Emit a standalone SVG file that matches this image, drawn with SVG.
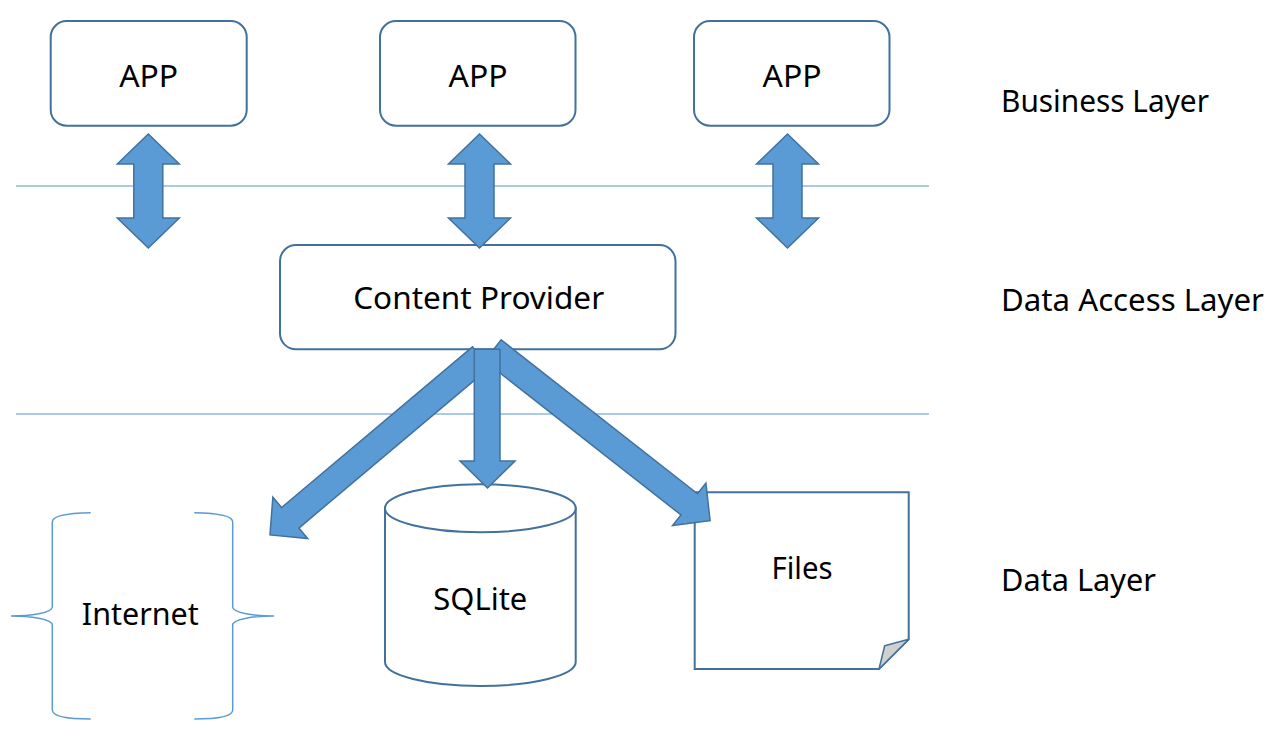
<svg xmlns="http://www.w3.org/2000/svg" xmlns:xlink="http://www.w3.org/1999/xlink" width="1280" height="754" viewBox="0 0 1280 754">
<style>
.box{fill:#fff;stroke:#41719C;stroke-width:2}
.arr{fill:#5B9BD5;stroke:#41719C;stroke-width:1.5;stroke-linejoin:miter}
.sep{stroke:#8DB9E2;stroke-width:1.4;fill:none}
.brace{stroke:#5B9BD5;stroke-width:1.5;fill:none}
text{font-family:"Noto Sans","Open Sans","DejaVu Sans",sans-serif;font-size:30px;fill:#000}
.c{text-anchor:middle}
</style>
<defs>
<path id="dbl" d="M0,134 L31,164 L14.5,164 L14.5,218 L31,218 L0,248 L-31,218 L-14.5,218 L-14.5,164 L-31,164 Z"/>
<path id="diag" d="M0,-13.4 L249.5,-13.4 L249.5,-27 L276,0 L249.5,27 L249.5,13.4 L0,13.4 Z"/>
</defs>
<rect width="1280" height="754" fill="#fff"/>
<g id="separators">
<line class="sep" x1="16" y1="186" x2="929" y2="186"/>
<line class="sep" x1="16" y1="414" x2="929" y2="414"/>
</g>
<g id="app1"><rect class="box" x="50.7" y="21" width="196" height="104.7" rx="16"/><text class="c" x="148.7" y="87" textLength="59" lengthAdjust="spacingAndGlyphs">APP</text></g>
<g id="app2"><rect class="box" x="380" y="21" width="195.5" height="104.7" rx="16"/><text class="c" x="478" y="87" textLength="59" lengthAdjust="spacingAndGlyphs">APP</text></g>
<g id="app3"><rect class="box" x="694" y="21" width="195.5" height="104.7" rx="16"/><text class="c" x="792" y="87" textLength="59" lengthAdjust="spacingAndGlyphs">APP</text></g>
<g id="content-provider"><rect class="box" x="280" y="245" width="395.5" height="104.3" rx="16"/><text class="c" x="478.7" y="309.3" textLength="251" lengthAdjust="spacingAndGlyphs">Content Provider</text></g>
<g id="internet">
<path class="brace" d="M90.7,512.7 C70,513 52.3,515 52.3,522 L52.3,607 C52.3,613 30,616 11,616 C30,616 52.3,619 52.3,625 L52.3,710 C52.3,717 70,719 90.7,719"/>
<path class="brace" d="M194.3,512.7 C215,513 232.7,515 232.7,522 L232.7,607 C232.7,613 255,616 274,616 C255,616 232.7,619 232.7,625 L232.7,710 C232.7,717 215,719 194.3,719"/>
<text class="c" x="140.3" y="625" textLength="117" lengthAdjust="spacingAndGlyphs">Internet</text>
</g>
<g id="sqlite">
<path class="box" d="M385,508.3 L385,662 A95.35,24 0 0 0 575.7,662 L575.7,508.3 Z"/>
<ellipse class="box" cx="480.35" cy="508.3" rx="95.35" ry="24"/>
<text class="c" x="480.3" y="610" textLength="94" lengthAdjust="spacingAndGlyphs">SQLite</text>
</g>
<g id="files">
<path class="box" d="M694.7,492.3 L908.7,492.3 L908.7,639.3 L879,669 L694.7,669 Z"/>
<path d="M908.7,639.3 L884.7,645.7 L879,669 Z" fill="#D0D0D0" stroke="#41719C" stroke-width="1.5" stroke-linejoin="round"/>
<text class="c" x="802" y="579" textLength="61" lengthAdjust="spacingAndGlyphs">Files</text>
</g>
<g id="labels">
<text x="1001" y="111.7" textLength="208" lengthAdjust="spacingAndGlyphs">Business Layer</text>
<text x="1001" y="311" textLength="263" lengthAdjust="spacingAndGlyphs">Data Access Layer</text>
<text x="1001" y="591" textLength="155" lengthAdjust="spacingAndGlyphs">Data Layer</text>
</g>
<g id="connectors">
<use xlink:href="#dbl" class="arr" x="148.3"/>
<use xlink:href="#dbl" class="arr" x="479.5"/>
<use xlink:href="#dbl" class="arr" x="787.5"/>
<use xlink:href="#diag" class="arr" transform="translate(481.1,357.1) rotate(139.9)"/>
<use xlink:href="#diag" class="arr" transform="translate(492.9,350.4) rotate(38.1)"/>
<path class="arr" d="M474.3,349.3 L500,349.3 L500,461 L515,461 L487.5,488 L460,461 L474.3,461 Z"/>
</g>
</svg>
